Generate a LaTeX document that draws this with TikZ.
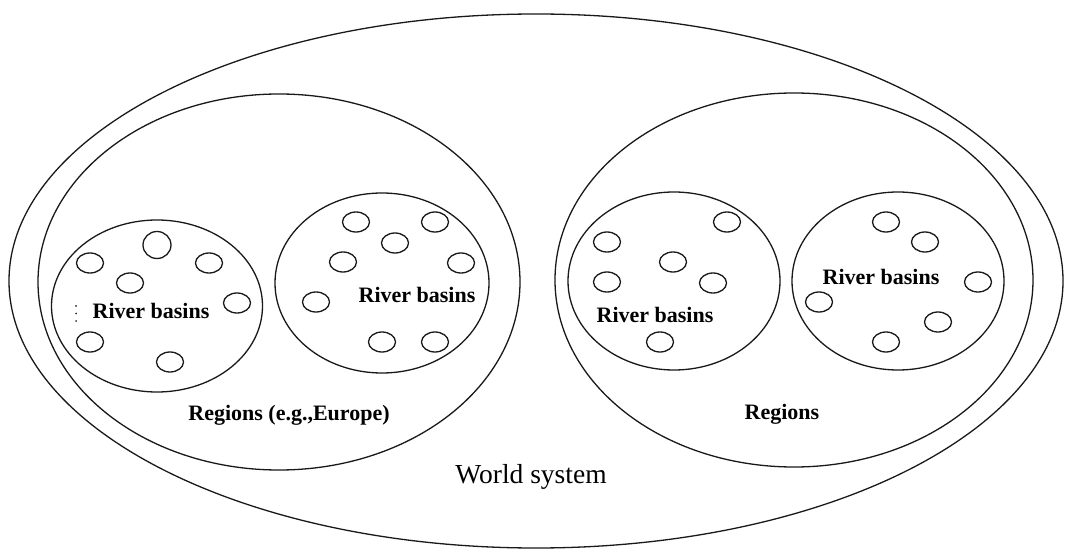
\documentclass[tikz,border=0pt]{standalone}
\usepackage{fontspec}
\setmainfont{Liberation Serif}
\usetikzlibrary{shapes.geometric}
\tikzset{
  ring/.style={draw=black!90, line width=1.3pt, ellipse, inner sep=0pt},
  blob/.style={draw=black!90, line width=1.3pt, ellipse, inner sep=0pt, minimum width=27pt, minimum height=20pt},
  lab/.style={font=\fontsize{22}{26}\selectfont\bfseries, inner sep=0pt},
  worldlab/.style={font=\fontsize{27.5}{32}\selectfont, inner sep=0pt},
  dotm/.style={fill=black!80, circle, inner sep=0pt, minimum size=2pt}
}
\begin{document}
\begin{tikzpicture}[x=1pt,y=-1pt]
\useasboundingbox (0,0) rectangle (1066,553);
% world
\node[ring, minimum width=1054pt, minimum height=534pt] (world) at (536,281) {};
% regions
\node[ring, minimum width=482pt, minimum height=376pt] (regL) at (279,282) {};
\node[ring, minimum width=478pt, minimum height=374pt] (regR) at (794,280) {};
% basins
\node[ring, minimum width=211pt, minimum height=172pt] (basA) at (157,306) {};
\node[ring, minimum width=214pt, minimum height=180pt] (basB) at (382,283) {};
\node[ring, minimum width=212pt, minimum height=178pt] (basC) at (674,281) {};
\node[ring, minimum width=212pt, minimum height=178pt] (basD) at (898,281) {};
% small ellipses basin A
\node[blob] (a1) at (90,263) {};
\node[blob, minimum width=28pt, minimum height=27pt] (a2) at (157,245) {};
\node[blob] (a3) at (209,263) {};
\node[blob] (a4) at (130,283) {};
\node[blob] (a5) at (237,303) {};
\node[blob] (a6) at (90,342) {};
\node[blob] (a7) at (170,362) {};
% basin B
\node[blob] (b1) at (356,222) {};
\node[blob] (b2) at (435,222) {};
\node[blob] (b3) at (395,243) {};
\node[blob] (b4) at (343,262) {};
\node[blob] (b5) at (461,263) {};
\node[blob] (b6) at (316,302) {};
\node[blob] (b7) at (382,342) {};
\node[blob] (b8) at (435,342) {};
% basin C
\node[blob] (c1) at (607,242) {};
\node[blob] (c2) at (727,222) {};
\node[blob] (c3) at (673,262) {};
\node[blob] (c4) at (607,282) {};
\node[blob] (c5) at (713,283) {};
\node[blob] (c6) at (660,342) {};
% basin D
\node[blob] (d1) at (886,222) {};
\node[blob] (d2) at (925,242) {};
\node[blob] (d3) at (978,282) {};
\node[blob] (d4) at (819,302) {};
\node[blob] (d5) at (938,322) {};
\node[blob] (d6) at (886,342) {};
% vertical dots
\node[dotm] (v1) at (76,306) {};
\node[dotm] (v2) at (76,313.5) {};
\node[dotm] (v3) at (76,321) {};
% labels
\node[lab] (tA) at (151,311) {River basins};
\node[lab] (tB) at (417,295) {River basins};
\node[lab] (tC) at (655,315) {River basins};
\node[lab] (tD) at (881,277) {River basins};
\node[lab] (tRL) at (289,415) {Regions (e.g.,Europe)};
\node[lab] (tRR) at (782,414) {Regions};
\node[worldlab] (tW) at (531,477) {World system};
\end{tikzpicture}
\end{document}
